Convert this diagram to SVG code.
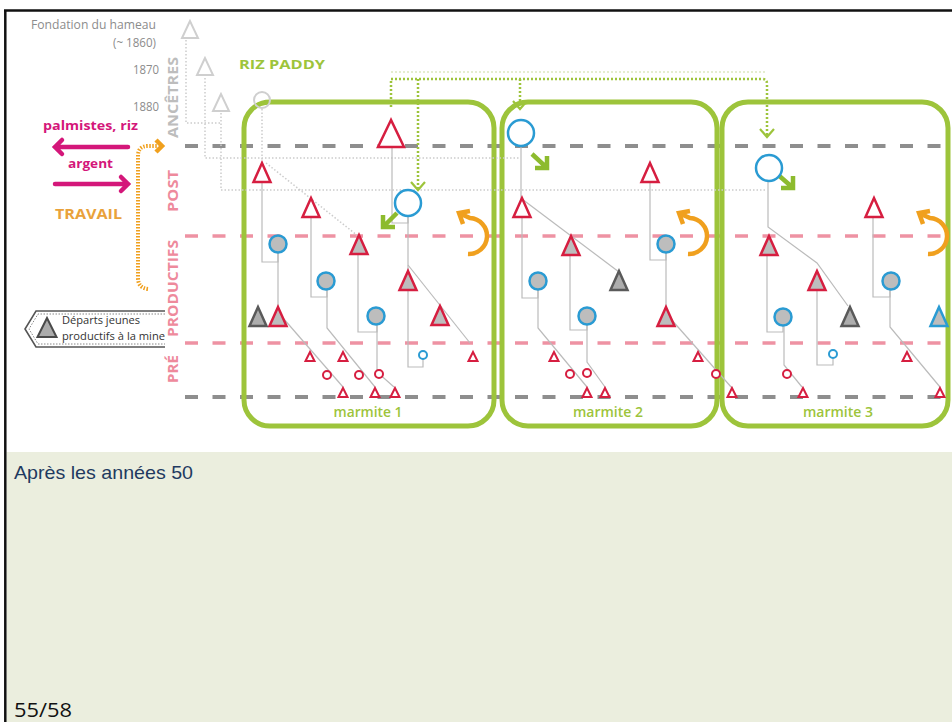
<svg xmlns="http://www.w3.org/2000/svg" xmlns:xlink="http://www.w3.org/1999/xlink" width="952" height="722" viewBox="0 0 952 722">
<defs>
<style>
.lbl{font-family:"Open Sans","Liberation Sans",sans-serif}
.gray{fill:#8C8C8C;font-size:12px}
.vert{font-weight:bold;font-size:14px}
.rw{fill:#fff;stroke:#D61E40;stroke-width:2.5}
.rg{fill:#BDBDBD;stroke:#D61E40;stroke-width:2.5}
.gg{fill:#ADADAD;stroke:#5A5A5A;stroke-width:2.5}
.bt{fill:#BDBDBD;stroke:#2A9BD3;stroke-width:2.5}
.bg{fill:#BDBDBD;stroke:#2A9BD3;stroke-width:2.5}
.bw{fill:#fff;stroke:#2A9BD3;stroke-width:2.5}
.rs{fill:#fff;stroke:#D61E40;stroke-width:2}
.bs{fill:#fff;stroke:#2A9BD3;stroke-width:2}
.anc{fill:none;stroke:#CFCFCF;stroke-width:2}
.ln{fill:none;stroke:#BBBBBB;stroke-width:1.2}
.dot{fill:none;stroke:#CCCCCC;stroke-width:1.5;stroke-dasharray:1.5 2}
.gdash{fill:none;stroke:#8E8E8E;stroke-width:4;stroke-dasharray:13 14.5}
.pdash{fill:none;stroke:#EE92A3;stroke-width:3.5;stroke-dasharray:13 14.5}
.marm{fill:none;stroke:#9DC43B;stroke-width:5}
.gdot{fill:none;stroke:#9DC43B;stroke-width:2.5;stroke-dasharray:2 2}
.garr{fill:none;stroke:#9DC43B;stroke-width:2.2}
.gthick{fill:none;stroke:#8DBB2E;stroke-width:4.5}
.orng{fill:none;stroke:#F0A01E;stroke-width:4.5}
.mag{fill:none;stroke:#D4177A;stroke-width:4.5;stroke-linecap:round}
.mlab{fill:#9DC43B;font-size:14px;font-weight:600}
</style>
<polygon id="tS" points="0,-5 -4.5,4 4.5,4"/>
<polygon id="tM" points="0,-10 -8.5,9 8.5,9"/>
<polygon id="tL" points="0,-14 -13,13 13,13"/>
</defs>

<rect x="0" y="0" width="952" height="722" fill="#fff"/>
<rect x="6.5" y="452" width="946" height="270" fill="#EBEEDE"/>
<line x1="4" y1="10.5" x2="952" y2="10.5" stroke="#111" stroke-width="2.5"/>
<line x1="5.3" y1="10" x2="5.3" y2="722" stroke="#111" stroke-width="2.5"/>

<!-- timeline labels -->
<g id="timeline" class="lbl">
<text class="gray" x="156" y="29" text-anchor="end" textLength="125" lengthAdjust="spacingAndGlyphs">Fondation du hameau</text>
<text class="gray" x="156" y="47" text-anchor="end" textLength="43" lengthAdjust="spacingAndGlyphs">(~ 1860)</text>
<text class="gray" x="159" y="74" text-anchor="end" textLength="26" lengthAdjust="spacingAndGlyphs">1870</text>
<text class="gray" x="159" y="111" text-anchor="end" textLength="26" lengthAdjust="spacingAndGlyphs">1880</text>
<text class="vert" fill="#BDBDBD" transform="translate(178,97.5) rotate(-90)" text-anchor="middle" textLength="81" lengthAdjust="spacingAndGlyphs">ANCÊTRES</text>
<text class="vert" fill="#EE8A9C" transform="translate(178,191) rotate(-90)" text-anchor="middle" textLength="42" lengthAdjust="spacingAndGlyphs">POST</text>
<text class="vert" fill="#EE8A9C" transform="translate(178,288.5) rotate(-90)" text-anchor="middle" textLength="97" lengthAdjust="spacingAndGlyphs">PRODUCTIFS</text>
<text class="vert" fill="#EE8A9C" transform="translate(178,369) rotate(-90)" text-anchor="middle" textLength="28" lengthAdjust="spacingAndGlyphs">PRÉ</text>
<text x="239" y="69" fill="#9DC43B" font-size="13" font-weight="bold" textLength="86" lengthAdjust="spacingAndGlyphs">RIZ PADDY</text>
</g>

<!-- exchanges -->
<g id="exchanges" class="lbl">
<text x="43" y="130" fill="#D4177A" font-size="13" font-weight="bold" textLength="95" lengthAdjust="spacingAndGlyphs">palmistes, riz</text>
<path class="mag" d="M128,147 H55 M62,140 L55,147 L62,154"/>
<text x="68" y="168" fill="#D4177A" font-size="13" font-weight="bold" textLength="45" lengthAdjust="spacingAndGlyphs">argent</text>
<path class="mag" d="M55,184 H128 M121,177 L128,184 L121,191"/>
<text x="55" y="219" fill="#E9A23B" font-size="14.5" font-weight="bold" textLength="67" lengthAdjust="spacingAndGlyphs">TRAVAIL</text>
<path d="M148,289 Q138,288 138,278 V156 Q138,146 148,146 H158" fill="none" stroke="#F0A01E" stroke-width="4" stroke-dasharray="1.5 1.5"/>
<path class="orng" d="M156,140 L162,146 L156,152" stroke-width="3.5"/>
</g>

<!-- departures box -->
<g id="departs" class="lbl">
<polyline points="165,311 36,311 25,329 36,347 165,347" fill="none" stroke="#555" stroke-width="1.6"/>
<polyline points="165,314 38,314 29,329 38,344 165,344" fill="none" stroke="#888" stroke-width="1" stroke-dasharray="1.5 1.5"/>
<polygon points="47,318 37.5,337 56.5,337" fill="#ABABAB" stroke="#4A4A4A" stroke-width="2"/>
<text x="62" y="324" fill="#333" font-size="11" textLength="78" lengthAdjust="spacingAndGlyphs">Départs jeunes</text>
<text x="62" y="340" fill="#333" font-size="11" textLength="103" lengthAdjust="spacingAndGlyphs">productifs à la mine</text>
</g>

<!-- horizontal generation lines -->
<g id="gridlines">
<line class="gdash" x1="185" y1="146" x2="952" y2="146"/>
<line class="pdash" x1="185" y1="236" x2="952" y2="236"/>
<line class="pdash" x1="185" y1="343" x2="952" y2="343"/>
<line class="gdash" x1="185" y1="397" x2="952" y2="397"/>
</g>

<!-- marmites -->
<g id="marmite1"><rect class="marm" x="244" y="102" width="250" height="324" rx="26"/><text class="lbl mlab" x="368" y="417" text-anchor="middle" textLength="69" lengthAdjust="spacingAndGlyphs">marmite 1</text></g>
<g id="marmite2"><rect class="marm" x="502" y="102" width="215" height="324" rx="26"/><text class="lbl mlab" x="608" y="417" text-anchor="middle" textLength="70" lengthAdjust="spacingAndGlyphs">marmite 2</text></g>
<g id="marmite3"><rect class="marm" x="722" y="102" width="226" height="324" rx="26"/><text class="lbl mlab" x="838" y="417" text-anchor="middle" textLength="70" lengthAdjust="spacingAndGlyphs">marmite 3</text></g>

<!-- connectors -->
<g id="connectors">
<!-- ancestors dotted -->
<path class="dot" d="M186,40 V123 H221"/>
<path class="dot" d="M205,78 V158 H520"/>
<path class="dot" d="M221,113 V190 H767"/>
<path class="dot" d="M262,109 V163"/>
<path class="dot" d="M266,163 L358,236"/>
<!-- marmite 1 -->
<path class="ln" d="M262,182 V262 H278 V253"/>
<path class="ln" d="M278,253 V307"/>
<path class="ln" d="M283,318 L343,387"/>
<path class="ln" d="M311,217 V297 H327 V290"/>
<path class="ln" d="M327,290 V328 L375,387"/>
<path class="ln" d="M358,254 V332 H377 V325"/>
<path class="ln" d="M377,325 V372 L394,387"/>
<path class="ln" d="M392,147 V223 H408 V216"/>
<path class="ln" d="M408,216 V271"/>
<path class="ln" d="M408,265 L470,343"/>
<path class="ln" d="M408,290 V367 H423 V359"/>
<!-- marmite 2 -->
<path class="ln" d="M521,146 V199"/>
<path class="ln" d="M522,199 L619,272"/>
<path class="ln" d="M522,217 V298 H538 V290"/>
<path class="ln" d="M538,290 V328 L587,387"/>
<path class="ln" d="M570,255 V330 H587 V325"/>
<path class="ln" d="M587,325 V362 L605,387"/>
<path class="ln" d="M650,182 V260 H666 V253"/>
<path class="ln" d="M666,253 V308"/>
<path class="ln" d="M670,318 L732,388"/>
<!-- marmite 3 -->
<path class="ln" d="M768,181 V227 L817,263 L848,306"/>
<path class="ln" d="M767,255 V332 H783 V325"/>
<path class="ln" d="M784,325 V365 L802,387"/>
<path class="ln" d="M817,290 V365 H833 V359"/>
<path class="ln" d="M873,217 V297 H890 V290"/>
<path class="ln" d="M890,290 V327 L940,387"/>
<!-- rice paddy transfers -->
<line x1="391" y1="72" x2="765" y2="72" stroke="#E4EDCF" stroke-width="2" stroke-dasharray="2 2"/>
<path class="gdot" d="M391,107 V79 H762 Q767,79 767,84 V135"/>
<path class="gdot" d="M418,79 V188"/>
<path class="gdot" d="M520,79 V108"/>
<path class="garr" d="M411,182 L418,190 L425,182"/>
<path class="garr" d="M513,101 L520,109 L527,101"/>
<path class="garr" d="M760,129 L767,137 L774,129"/>
<path class="gthick" d="M397,213 L384,226 M383,215 V227 H395"/>
<path class="gthick" d="M532,154 L546,167 M547,156 V168 H535"/>
<path class="gthick" d="M776,173 L792,187 M793,176 V188 H781"/>
<!-- orange returns -->
<path class="orng" d="M468,254 A18,18 0 0 0 470,218 L461,214 M470,211 L459,213 L463,224"/>
<path class="orng" d="M688,254 A18,18 0 0 0 690,218 L681,214 M690,211 L679,213 L683,224"/>
<path class="orng" d="M928,254 A18,18 0 0 0 930,218 L921,214 M930,211 L919,213 L923,224"/>
</g>

<!-- ancestors -->
<g id="ancestors">
<polygon class="anc" points="190,21 182,38 198,38"/>
<polygon class="anc" points="205,58 197,75 213,75"/>
<polygon class="anc" points="221,94 213,111 229,111"/>
<circle class="anc" cx="262" cy="100" r="8"/>
</g>

<!-- marmite 1 nodes -->
<g id="m1-nodes">
<use href="#tL" xlink:href="#tL" class="rw" x="391" y="134" stroke-width="3"/>
<circle class="bw" cx="408" cy="203" r="13"/>
<use href="#tM" xlink:href="#tM" class="rw" x="262" y="173"/>
<use href="#tM" xlink:href="#tM" class="rw" x="311" y="208"/>
<use href="#tM" xlink:href="#tM" class="rg" x="359" y="245"/>
<circle class="bg" cx="278" cy="244" r="8.5"/>
<circle class="bg" cx="326" cy="281" r="8.5"/>
<circle class="bg" cx="376" cy="316" r="8.5"/>
<use href="#tM" xlink:href="#tM" class="rg" x="408" y="281"/>
<use href="#tM" xlink:href="#tM" class="rg" x="278" y="317"/>
<use href="#tM" xlink:href="#tM" class="gg" x="258" y="317"/>
<use href="#tM" xlink:href="#tM" class="rg" x="440" y="316"/>
<use href="#tS" xlink:href="#tS" class="rs" x="310" y="357"/>
<use href="#tS" xlink:href="#tS" class="rs" x="343" y="357"/>
<use href="#tS" xlink:href="#tS" class="rs" x="473" y="357"/>
<use href="#tS" xlink:href="#tS" class="rs" x="343" y="393"/>
<use href="#tS" xlink:href="#tS" class="rs" x="375" y="393"/>
<use href="#tS" xlink:href="#tS" class="rs" x="395" y="393"/>
<circle class="rs" cx="327" cy="375" r="4"/>
<circle class="rs" cx="359" cy="375" r="4"/>
<circle class="rs" cx="379" cy="374" r="4"/>
<circle class="bs" cx="423" cy="355" r="4"/>
</g>

<!-- marmite 2 nodes -->
<g id="m2-nodes">
<circle class="bw" cx="521" cy="133" r="13"/>
<use href="#tM" xlink:href="#tM" class="rw" x="522" y="208"/>
<use href="#tM" xlink:href="#tM" class="rg" x="571" y="246"/>
<use href="#tM" xlink:href="#tM" class="gg" x="619" y="281"/>
<circle class="bg" cx="538" cy="281" r="8.5"/>
<circle class="bg" cx="587" cy="316" r="8.5"/>
<use href="#tM" xlink:href="#tM" class="rw" x="650" y="173"/>
<circle class="bg" cx="666" cy="244" r="8.5"/>
<use href="#tM" xlink:href="#tM" class="rg" x="666" y="317"/>
<use href="#tS" xlink:href="#tS" class="rs" x="554" y="357"/>
<use href="#tS" xlink:href="#tS" class="rs" x="698" y="357"/>
<use href="#tS" xlink:href="#tS" class="rs" x="587" y="393"/>
<use href="#tS" xlink:href="#tS" class="rs" x="605" y="393"/>
<circle class="rs" cx="570" cy="374" r="4"/>
<circle class="rs" cx="587" cy="373" r="4"/>
<circle class="rs" cx="716" cy="374" r="4"/>
</g>

<!-- marmite 3 nodes -->
<g id="m3-nodes">
<circle class="bw" cx="769" cy="168" r="13"/>
<use href="#tM" xlink:href="#tM" class="rg" x="769" y="246"/>
<use href="#tM" xlink:href="#tM" class="rg" x="817" y="281"/>
<use href="#tM" xlink:href="#tM" class="gg" x="850" y="317"/>
<circle class="bg" cx="783" cy="317" r="8.5"/>
<circle class="bs" cx="833" cy="354" r="4"/>
<use href="#tM" xlink:href="#tM" class="rw" x="874" y="208"/>
<circle class="bg" cx="891" cy="281" r="8.5"/>
<use href="#tM" xlink:href="#tM" class="bt" x="939" y="317"/>
<use href="#tS" xlink:href="#tS" class="rs" x="907" y="357"/>
<use href="#tS" xlink:href="#tS" class="rs" x="732" y="393"/>
<use href="#tS" xlink:href="#tS" class="rs" x="803" y="393"/>
<use href="#tS" xlink:href="#tS" class="rs" x="940" y="393"/>
<circle class="rs" cx="787" cy="374" r="4"/>
</g>

<!-- slide texts -->
<g id="slide-text">
<text x="14" y="479" fill="#1F3A60" font-family="Liberation Sans, Arial, sans-serif" font-size="19" textLength="179" lengthAdjust="spacingAndGlyphs">Après les années 50</text>
<text x="14" y="717" fill="#111" font-family="Open Sans, Liberation Sans, sans-serif" font-size="20" textLength="58" lengthAdjust="spacingAndGlyphs">55/58</text>
</g>
</svg>
